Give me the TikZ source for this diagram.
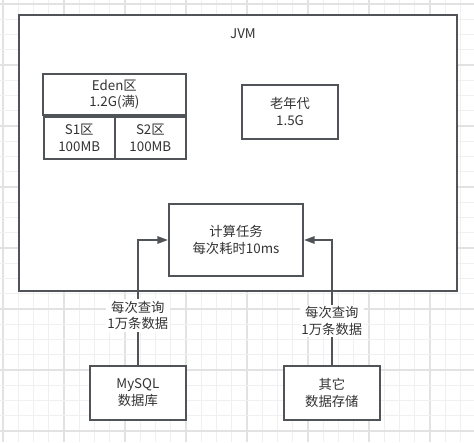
\documentclass[tikz,border=0pt]{standalone}
\usepackage{fontspec}
\setmainfont{Noto Sans CJK SC}
\usetikzlibrary{arrows.meta}
\definecolor{strk}{RGB}{80,83,87}
\definecolor{txt}{RGB}{51,51,51}
\definecolor{gridminor}{RGB}{240,240,240}
\definecolor{gridmajor}{RGB}{226,226,226}
\begin{document}
\begin{tikzpicture}[x=0.75pt,y=-0.75pt,
  box/.style={draw=strk,line width=1.5pt,fill=white,text=txt,align=center,
    font=\fontsize{10}{12.6}\selectfont,inner sep=0pt},
  plain/.style={text=txt,align=center,font=\fontsize{10}{12.6}\selectfont,inner sep=0pt},
  lbl/.style={fill=white,text=txt,align=center,font=\fontsize{10}{12.6}\selectfont,inner sep=1.2pt},
  conn/.style={draw=strk,line width=1.5pt,-{Triangle[length=8pt,width=5.5pt]}}]
\useasboundingbox[fill=white] (0,0) rectangle (474,442);
% grid
\foreach \k in {0,...,30}{
  \pgfmathtruncatemacro{\m}{mod(\k,4)}
  \ifnum\m=0
    \draw[gridmajor,line width=0.9pt] ({3+15.25*\k},0) -- ({3+15.25*\k},442);
  \else
    \draw[gridminor,line width=0.75pt] ({3+15.25*\k},0) -- ({3+15.25*\k},442);
  \fi}
\foreach \k in {0,...,28}{
  \pgfmathtruncatemacro{\m}{mod(\k,4)}
  \ifnum\m=0
    \draw[gridmajor,line width=0.9pt] (0,{4+15.25*\k}) -- (474,{4+15.25*\k});
  \else
    \draw[gridminor,line width=0.75pt] (0,{4+15.25*\k}) -- (474,{4+15.25*\k});
  \fi}
% boxes
\node[box,minimum width=328.5pt,minimum height=207pt] (jvm) at (238,153) {};
\node[plain] (jvmlabel) at (243,34) {JVM};
\node[box,minimum width=107.5pt,minimum height=30.75pt] (eden) at (114.35,94.5) {Eden区\\1.2G(满)};
\node[box,minimum width=53.25pt,minimum height=31.5pt] (s1) at (79.2,138) {S1区\\100MB};
\node[box,minimum width=53.5pt,minimum height=31.5pt] (s2) at (150.35,138) {S2区\\100MB};
\node[box,minimum width=72.5pt,minimum height=40.5pt] (old) at (290,111.7) {老年代\\1.5G};
\node[box,minimum width=100.5pt,minimum height=54.5pt] (task) at (236,240) {计算任务\\每次耗时10ms};
\node[box,minimum width=71.8pt,minimum height=40.7pt] (mysql) at (137.85,392.85) {MySQL\\数据库};
\node[box,minimum width=72.2pt,minimum height=40.7pt] (other) at (331.85,392.85) {其它\\数据存储};
% connectors
\draw[conn] (mysql.north) |- (task.west);
\draw[conn] (other.north) |- (task.east);
\node[lbl] (l1) at (137.85,315.5) {每次查询\\1万条数据};
\node[lbl] (l2) at (331.85,321) {每次查询\\1万条数据};
\end{tikzpicture}
\end{document}
